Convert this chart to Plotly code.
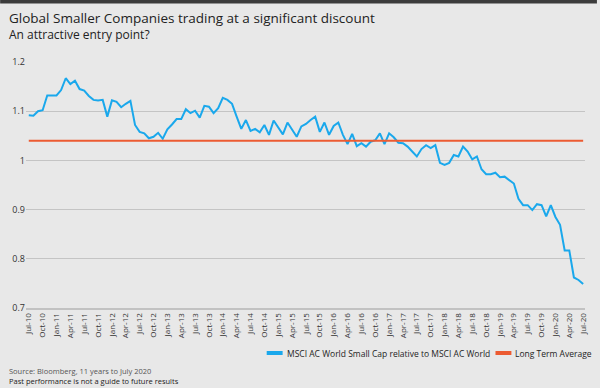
import pandas as pd
import plotly.graph_objects as go

# ---- data ----
months = [d.strftime("%b-%y") for d in pd.date_range("2010-07-01", "2020-07-01", freq="MS")]
relative = [
    1.092, 1.091, 1.100, 1.102, 1.132, 1.132, 1.132, 1.143, 1.167, 1.155,
    1.162, 1.145, 1.142, 1.131, 1.123, 1.122, 1.123, 1.089, 1.122, 1.119,
    1.108, 1.115, 1.121, 1.072, 1.058, 1.055, 1.045, 1.048, 1.056, 1.044,
    1.063, 1.073, 1.084, 1.084, 1.104, 1.096, 1.101, 1.087, 1.111, 1.109,
    1.096, 1.106, 1.127, 1.123, 1.115, 1.089, 1.064, 1.082, 1.060, 1.064,
    1.057, 1.072, 1.052, 1.081, 1.067, 1.053, 1.077, 1.062, 1.048, 1.069,
    1.074, 1.082, 1.089, 1.058, 1.077, 1.052, 1.070, 1.077, 1.052, 1.033,
    1.054, 1.029, 1.035, 1.028, 1.038, 1.041, 1.055, 1.033, 1.055, 1.047,
    1.036, 1.035, 1.028, 1.018, 1.008, 1.023, 1.031, 1.025, 1.031, 0.995,
    0.991, 0.995, 1.011, 1.008, 1.028, 1.018, 1.002, 1.008, 0.982, 0.972,
    0.972, 0.975, 0.966, 0.967, 0.959, 0.953, 0.922, 0.909, 0.909, 0.899,
    0.911, 0.909, 0.886, 0.909, 0.885, 0.869, 0.817, 0.817, 0.762, 0.757,
    0.749,
]
long_term_avg = 1.04
tick_labels = months[::3]
y_ticks = [0.7, 0.8, 0.9, 1.0, 1.1, 1.2]
y_tick_text = ["0.7", "0.8", "0.9", "1", "1.1", "1.2"]
series_names = ["MSCI AC World Small Cap relative to MSCI AC World", "Long Term Average"]
colors = ["#1aa8ec", "#ec5b32"]

# ---- layout helpers (pixel -> paper) ----
W, H = 600, 388
ML, MR, MT, MB = 26, 12, 62, 80
PW, PH = W - ML - MR, H - MT - MB
def px(x):
    return (x - ML) / PW
def py(y):
    return (H - MB - y) / PH

FONT = "Open Sans"

fig = go.Figure()
fig.add_trace(go.Scatter(x=months, y=relative, mode="lines", name=series_names[0],
                         line=dict(color=colors[0], width=2), showlegend=False))
fig.add_trace(go.Scatter(x=[months[0], months[-1]], y=[long_term_avg, long_term_avg], mode="lines",
                         name=series_names[1], line=dict(color=colors[1], width=2), showlegend=False))

shapes = [
    dict(type="rect", xref="paper", yref="paper", x0=px(0), x1=px(W), y0=py(3.5), y1=py(0),
         fillcolor="#3c3c3c", line=dict(width=0), layer="above"),
    dict(type="line", xref="paper", yref="paper", x0=px(268), x1=px(284), y0=py(353), y1=py(353),
         line=dict(color=colors[0], width=4)),
    dict(type="line", xref="paper", yref="paper", x0=px(498), x1=px(514), y0=py(353), y1=py(353),
         line=dict(color=colors[1], width=4)),
]
annotations = [
    dict(text="Global Smaller Companies trading at a significant discount", xref="paper", yref="paper",
         x=px(8), y=py(17.5), xanchor="left", yanchor="middle", showarrow=False, borderpad=0,
         font=dict(family=FONT, size=13.5, color="#222222")),
    dict(text="An attractive entry point?", xref="paper", yref="paper",
         x=px(8), y=py(35), xanchor="left", yanchor="middle", showarrow=False, borderpad=0,
         font=dict(family=FONT, size=12, color="#222222")),
    dict(text=series_names[0], xref="paper", yref="paper", x=px(286), y=py(353),
         xanchor="left", yanchor="middle", showarrow=False,
         font=dict(family=FONT, size=8.5, color="#1e1e1e")),
    dict(text=series_names[1], xref="paper", yref="paper", x=px(516), y=py(353),
         xanchor="left", yanchor="middle", showarrow=False,
         font=dict(family=FONT, size=8.5, color="#1e1e1e")),
    dict(text="Source: Bloomberg, 11 years to July 2020", xref="paper", yref="paper",
         x=px(8), y=py(371), xanchor="left", yanchor="middle", showarrow=False, borderpad=0,
         font=dict(family=FONT, size=7.5, color="#555555")),
    dict(text="Past performance is not a guide to future results", xref="paper", yref="paper",
         x=px(8), y=py(381), xanchor="left", yanchor="middle", showarrow=False, borderpad=0,
         font=dict(family=FONT, size=7.5, color="#222222")),
]

fig.update_layout(
    width=W, height=H,
    margin=dict(l=ML, r=MR, t=MT, b=MB),
    paper_bgcolor="#e8e8e8", plot_bgcolor="#e8e8e8",
    font=dict(family=FONT, color="#333333"),
    shapes=shapes, annotations=annotations,
    xaxis=dict(type="category", range=[-0.6, 120.4], tickmode="array", tickvals=tick_labels,
               ticktext=tick_labels, tickangle=-90, tickfont=dict(size=8, color="#333333"),
               showgrid=False, zeroline=False, showline=True, linecolor="#c2c2c2", linewidth=2,
               ticks=""),
    yaxis=dict(range=[0.7, 1.2], tickmode="array", tickvals=y_ticks, ticktext=y_tick_text,
               tickfont=dict(size=9, color="#333333"), gridcolor="#c4c4c4", gridwidth=1,
               zeroline=False, showline=False, ticks=""),
    showlegend=False,
)

fig.write_html("out.html", config={"displayModeBar": False},
               post_script="document.body.style.margin='0';document.body.style.padding='0';")
